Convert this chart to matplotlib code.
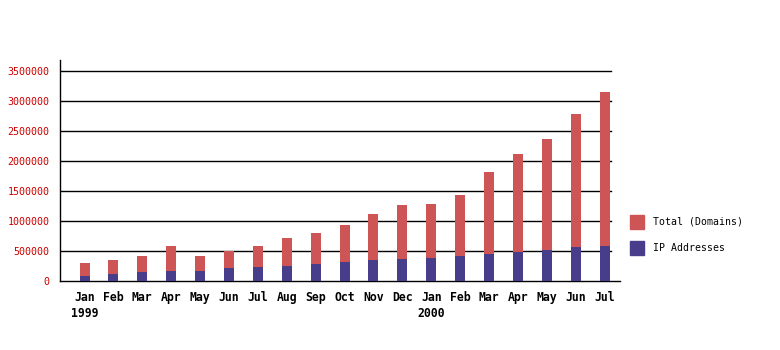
import matplotlib
matplotlib.use("Agg")
import matplotlib.pyplot as plt
from matplotlib.patches import Rectangle

months = ["Jan", "Feb", "Mar", "Apr", "May", "Jun", "Jul", "Aug", "Sep", "Oct",
          "Nov", "Dec", "Jan", "Feb", "Mar", "Apr", "May", "Jun", "Jul"]
years = {0: "1999", 12: "2000"}
total_domains = [294000, 355000, 422000, 588000, 422000, 505000, 588000, 722000,
                 805000, 938000, 1122000, 1272000, 1288000, 1422000, 1805000,
                 2105000, 2355000, 2772000, 3138000]
ip_addresses = [88000, 110000, 144000, 172000, 172000, 222000, 238000, 255000,
                288000, 322000, 355000, 372000, 388000, 422000, 455000, 488000,
                522000, 572000, 588000]
yticks = [0, 500000, 1000000, 1500000, 2000000, 2500000, 3000000, 3500000]
series_names = ["Total (Domains)", "IP Addresses"]

RED = "#cd5555"
BLUE = "#483d8b"

W, H = 780, 350
fig = plt.figure(figsize=(W / 100, H / 100), dpi=100)
ax = fig.add_axes([60 / W, 1 - 281 / H, 560 / W, 221 / H])

x = list(range(len(months)))
ax.bar(x, total_domains, width=0.346, color=RED, zorder=3, label=series_names[0])
ax.bar(x, ip_addresses, width=0.346, color=BLUE, zorder=4, label=series_names[1])

ax.set_xlim(-0.848, 18.53)
ax.set_ylim(0, 3675000)

for v in yticks[1:]:
    ax.axhline(v, xmin=0, xmax=(611 - 60) / 560, color="black", lw=1.0, zorder=1)

for s in ["top", "right"]:
    ax.spines[s].set_visible(False)
for s in ["left", "bottom"]:
    ax.spines[s].set_color("black")
    ax.spines[s].set_linewidth(1.0)

ax.set_yticks(yticks)
ax.set_yticklabels([str(v) for v in yticks], family="DejaVu Sans Mono",
                   fontsize=7.2, color="#cc0000")
ax.tick_params(axis="y", length=0, pad=7.5)

labels = [m + ("\n" + years[i] if i in years else "\n ") for i, m in enumerate(months)]
ax.set_xticks(x)
ax.set_xticklabels(labels, family="DejaVu Sans Mono", fontsize=8.3,
                   fontweight="bold", color="black", linespacing=1.35)
ax.tick_params(axis="x", length=0, pad=7)

# legend drawn in figure pixel space
for k, (name, col) in enumerate(zip(series_names, [RED, BLUE])):
    top = 215 + 26 * k
    fig.patches.append(Rectangle((630 / W, 1 - (top + 14) / H), 14 / W, 14 / H,
                                 transform=fig.transFigure, color=col))
    fig.text(653 / W, 1 - (top + 7) / H, name, family="DejaVu Sans Mono",
             fontsize=7.1, va="center", ha="left", color="black")

fig.savefig("out.png", dpi=100, facecolor="white")
